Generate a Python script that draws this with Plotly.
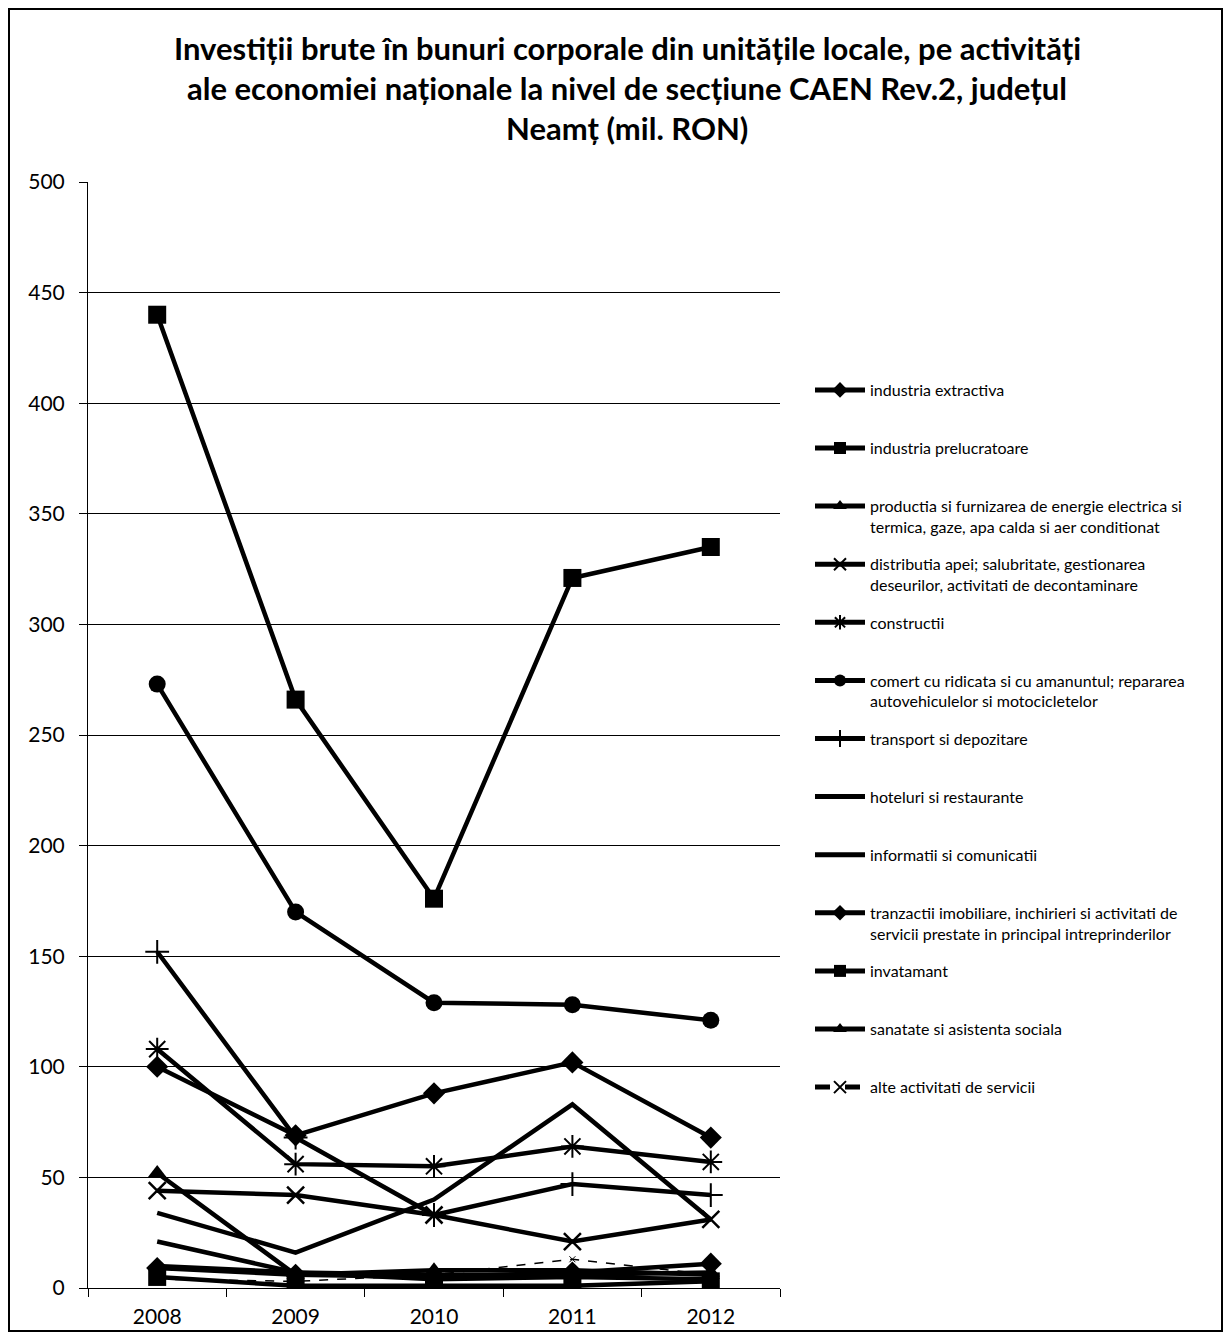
import plotly.graph_objects as go

years = ["2008", "2009", "2010", "2011", "2012"]

names = [
    "industria extractiva",
    "industria prelucratoare",
    "productia si furnizarea de energie electrica si<br>termica, gaze, apa calda si aer conditionat",
    "distributia apei; salubritate, gestionarea<br>deseurilor, activitati de decontaminare",
    "constructii",
    "comert cu ridicata si cu amanuntul; repararea<br>autovehiculelor si motocicletelor",
    "transport si depozitare",
    "hoteluri si restaurante",
    "informatii si comunicatii",
    "tranzactii imobiliare, inchirieri si activitati de<br>servicii prestate in principal intreprinderilor",
    "invatamant",
    "sanatate si asistenta sociala",
    "alte activitati de servicii",
]

industria_extractiva = [9, 6, 5, 7, 11]
industria_prelucratoare = [440, 266, 176, 321, 335]
productia_energie = [52, 6, 8, 8, 6]
distributia_apei = [44, 42, 33, 21, 31]
constructii = [108, 56, 55, 64, 57]
comert = [273, 170, 129, 128, 121]
transport = [152, 68, 33, 47, 42]
hoteluri = [34, 16, 40, 83, 31]
informatii = [21, 7, 4, 5, 4]
tranzactii_imobiliare = [100, 69, 88, 102, 68]
invatamant = [5, 1, 1, 1, 3]
sanatate = [10, 7, 6, 6, 7]
alte_activitati = [4, 3, 6, 13, 6]

series = [industria_extractiva, industria_prelucratoare, productia_energie,
          distributia_apei, constructii, comert, transport, hoteluri,
          informatii, tranzactii_imobiliare, invatamant, sanatate, alte_activitati]

# styles: (marker symbol, marker size, marker line width, line width, dash)
styles = [
    ("diamond", 17, 0, 4.5, "solid"),
    ("square", 18, 0, 4.5, "solid"),
    ("triangle-up", 16, 0, 4.5, "solid"),
    ("x-thin-open", 17, 2.5, 4.5, "solid"),
    ("asterisk-open", 19, 2.0, 4.5, "solid"),
    ("circle", 17, 0, 4.5, "solid"),
    ("cross-thin-open", 17, 2.0, 4.5, "solid"),
    (None, 0, 0, 4.5, "solid"),
    (None, 0, 0, 4.5, "solid"),
    ("diamond", 17, 0, 4.5, "solid"),
    ("square", 18, 0, 4.5, "solid"),
    ("triangle-up", 16, 0, 4.5, "solid"),
    ("x-thin-open", 6, 1.0, 1.5, "dash"),
]

fig = go.Figure()
for i, (nm, vals, st) in enumerate(zip(names, series, styles)):
    sym, size, mlw, lw, dash = st
    label = nm if "<br>" in nm else nm + "<br>\u00a0"
    tr = dict(
        x=years, y=vals, name=label, legendgroup=f"g{i}",
        line=dict(color="black", width=lw, dash=dash),
    )
    if sym is None:
        tr["mode"] = "lines"
    else:
        tr["mode"] = "lines+markers"
        tr["marker"] = dict(symbol=sym, size=size, color="black",
                            line=dict(color="black", width=mlw))
    fig.add_trace(go.Scatter(**tr))

OFF = 8  # page body offset
W, H = 1232 - 2 * OFF, 1341 - 2 * OFF
L, R, T, B = 88 - OFF, 780 - OFF, 182 - OFF, 1288 - OFF
pw, ph = R - L, B - T

def px(x):
    return (x - OFF - L) / pw

def py(y):
    return (B - (y - OFF)) / ph

title_lines = [
    "Investiții brute în bunuri corporale din unitățile locale, pe activități",
    "ale economiei naționale la nivel de secțiune CAEN Rev.2, județul",
    "Neamț (mil. RON)",
]
annotations = []
for k, (t, yc) in enumerate(zip(title_lines, [48, 88, 128])):
    annotations.append(dict(
        text="<b>" + t + "</b>", xref="paper", yref="paper",
        x=px(627), y=py(yc), xanchor="center", yanchor="middle",
        showarrow=False, font=dict(family="Lato", size=31, color="black"),
    ))

fig.update_layout(
    width=W, height=H,
    margin=dict(l=L, r=W - R, t=T, b=H - B, pad=0, autoexpand=False),
    paper_bgcolor="white", plot_bgcolor="white",
    font=dict(family="Lato", color="black"),
    annotations=annotations,
    showlegend=True,
    legend=dict(
        x=px(810), y=py(373), xanchor="left", yanchor="top",
        font=dict(family="Lato", size=16, color="black"),
        valign="top", tracegroupgap=13.5, itemwidth=50,
        itemsizing="constant", bgcolor="rgba(0,0,0,0)",
    ),
    xaxis=dict(
        type="category", range=[-0.5, 4.5], showgrid=False,
        showline=True, linecolor="black", linewidth=1,
        ticks="outside", tickson="boundaries", ticklen=8, tickcolor="black",
        tickfont=dict(family="Lato", size=21, color="black"),
        ticklabelstandoff=10, fixedrange=True, automargin=False,
    ),
    yaxis=dict(
        range=[0, 500], dtick=50, showgrid=True, gridcolor="black", gridwidth=1,
        showline=True, linecolor="black", linewidth=1,
        ticks="outside", ticklen=8, tickcolor="black",
        tickfont=dict(family="Lato", size=21, color="black"),
        ticklabelstandoff=10, zeroline=False, fixedrange=True, automargin=False,
    ),
    shapes=[dict(
        type="rect", xref="paper", yref="paper",
        x0=px(9), x1=px(1222), y0=py(1331), y1=py(9),
        line=dict(color="black", width=2), fillcolor="rgba(0,0,0,0)",
        layer="below",
    )],
)

fig.write_html("out.html")
